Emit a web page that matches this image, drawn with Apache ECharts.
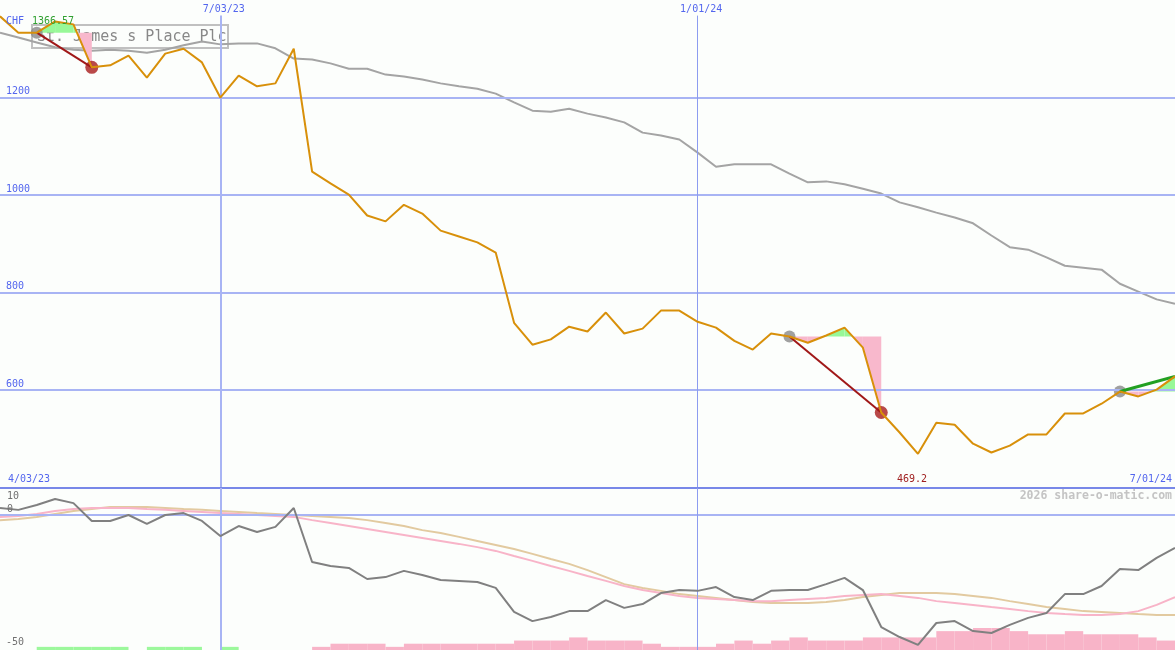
<!DOCTYPE html>
<html><head><meta charset="utf-8">
<script src="https://cdn.jsdelivr.net/npm/echarts@6/dist/echarts.min.js"></script>
<style>html,body{margin:0;padding:0;background:#fcfefc}#c{width:1175px;height:650px}</style>
</head><body><div id="c"></div>
<script>
// ---------- data ----------
const title = 'St. James s Place Plc';
const currency = 'CHF';
const headlinePrice = '1366.57';
const watermark = '2026 share-o-matic.com';
const priceTicks = [600, 800, 1000, 1200];
const lowerTicks = [10, 0, -50];
const dateTickIdx = [12, 38];
const dateTickLabels = ['7/03/23', '1/01/24'];
const startLabel = '4/03/23';
const endLabel = '7/01/24';

const price = [1366.57,1333,1333,1356,1350,1262,1266,1286,1241,1290,
  1300,1272,1200,1245,1223,1229,1300,1048,1024,1001,
  958,946,980,962,927,915,903,882,738,693,
  704,730,720,759,716,726,763,763,740,728,
  701,683,716,710,697,712,728,687,554,513,
  469.2,533,529,490,472,486,509,509,552,552,
  572,597,587,601,628];
const movingAvg = [1333,1323,1313,1303,1298,1296,1298,1296,1292,1298,
  1307,1315,1309,1311,1311,1301,1280,1278,1270,1259,
  1259,1247,1243,1237,1229,1223,1218,1208,1190,1173,
  1171,1177,1167,1159,1149,1128,1122,1114,1087,1058,
  1063,1063,1063,1044,1026,1028,1022,1013,1003,985,
  975,964,954,942,917,893,888,872,855,851,
  847,818,802,786,777];
const relStrength = [2.6,1.9,3.7,5.9,4.4,-2.2,-2.2,0,-3.3,0,
  0.7,-2.2,-7.8,-4.1,-6.3,-4.4,2.6,-17.4,-18.9,-19.6,
  -23.7,-23,-20.7,-22.2,-24.1,-24.4,-24.8,-27,-35.9,-39.3,
  -37.8,-35.6,-35.6,-31.5,-34.4,-33,-28.9,-27.8,-28.1,-26.7,
  -30.4,-31.5,-28.1,-27.8,-27.8,-25.6,-23.3,-27.8,-41.5,-45.2,
  -48.1,-40,-39.3,-43,-43.7,-40.7,-38.1,-36.3,-29.3,-29.3,
  -26.3,-20,-20.4,-15.9,-12.2];
const relFast = [-0.7,-0.4,0.4,1.5,2.2,2.6,2.6,2.6,2.2,1.9,
  1.5,1.1,0.7,0.4,0,-0.4,-0.7,-1.9,-3.0,-4.1,
  -5.2,-6.3,-7.4,-8.5,-9.6,-10.7,-11.9,-13.3,-15.2,-17.0,
  -18.9,-20.7,-22.6,-24.4,-26.3,-27.8,-28.9,-30.0,-30.7,-31.1,
  -31.5,-31.9,-31.9,-31.5,-31.1,-30.7,-30.0,-29.6,-29.3,-30.0,
  -30.7,-31.9,-32.6,-33.3,-34.1,-34.8,-35.6,-36.3,-36.7,-37.0,
  -37.0,-36.7,-35.6,-33.3,-30.4];
const relSlow = [-1.9,-1.5,-0.7,0.4,1.5,2.2,3.0,3.0,3.0,2.6,
  2.2,1.9,1.5,1.1,0.7,0.4,0,-0.4,-0.7,-1.1,
  -1.9,-3.0,-4.1,-5.6,-6.7,-8.1,-9.6,-11.1,-12.6,-14.4,
  -16.3,-18.1,-20.4,-23.0,-25.6,-27.0,-28.1,-29.3,-30.0,-30.7,
  -31.5,-32.2,-32.6,-32.6,-32.6,-32.2,-31.5,-30.4,-29.6,-28.9,
  -28.9,-28.9,-29.3,-30.0,-30.7,-31.9,-33.0,-34.1,-34.8,-35.6,
  -35.9,-36.3,-36.7,-37.0,-37.0];
// signal strength blocks (one per week interval): + green, - pink
const signalBars = [0,0,1,1,1,1,1,0,1,1,
  1,0,1,0,0,0,0,-1,-2,-2,
  -2,-1,-2,-2,-2,-2,-2,-2,-3,-3,
  -3,-4,-3,-3,-3,-2,-1,-1,-1,-2,
  -3,-2,-3,-4,-3,-3,-3,-4,-4,-4,
  -4,-6,-6,-7,-7,-6,-5,-5,-6,-5,
  -5,-5,-4,-3];
// trade signals: [start index, end index, kind]
const signals = [[2, 5, 'sell'], [43, 48, 'sell'], [61, 64, 'open']];

// ---------- styles ----------
const FONT = "'DejaVu Sans Mono', monospace";
const BLUE = '#5366ee';
const GRIDC = '#a8b4f4';
const VLINE2 = '#8c9cf0';
const FILL_UP = '#98f898';
const FILL_DN = '#f8b8cc';
const lastIdx = price.length - 1;

const fillData = [];
signals.forEach(([s, e]) => {
  for (let i = s; i < e; i++) fillData.push([i, price[i], price[i + 1], price[s]]);
});
function renderFill(params, api) {
  const i0 = api.value(0), p0 = api.value(1), p1 = api.value(2), L = api.value(3);
  const i1 = i0 + 1, d0 = p0 - L, d1 = p1 - L;
  const pt = (x, y) => api.coord([x, y]);
  const polys = [];
  if (d0 * d1 < 0) {
    const xc = i0 + d0 / (d0 - d1);
    polys.push({ pts: [pt(i0, L), pt(i0, p0), pt(xc, L)], up: d0 > 0 });
    polys.push({ pts: [pt(xc, L), pt(i1, p1), pt(i1, L)], up: d1 > 0 });
  } else {
    polys.push({ pts: [pt(i0, L), pt(i0, p0), pt(i1, p1), pt(i1, L)], up: (d0 + d1) > 0 });
  }
  return { type: 'group', children: polys.map(p => ({ type: 'polygon', shape: { points: p.pts }, style: { fill: p.up ? FILL_UP : FILL_DN } })) };
}
function renderBar(params, api) {
  const i = api.value(0), v = api.value(1);
  if (!v) return null;
  const a = api.coord([i, 0]), b = api.coord([i + 1, Math.abs(v)]);
  return { type: 'rect', shape: { x: a[0], y: b[1], width: b[0] - a[0], height: a[1] - b[1] }, style: { fill: v > 0 ? '#9cf89c' : '#f8b4c8' } };
}

const series = [];
// grid lines (top)
series.push({
  type: 'line', xAxisIndex: 0, yAxisIndex: 0, data: [], z: 1, silent: true,
  markLine: {
    symbol: 'none', silent: true, animation: false, label: { show: false },
    data: priceTicks.map(v => ({ yAxis: v, lineStyle: { color: GRIDC, width: 2, type: 'solid' } }))
      .concat(dateTickIdx.map((x, k) => [{ coord: [x, 1368], lineStyle: { color: k === 0 ? GRIDC : VLINE2, width: k === 0 ? 2 : 1, type: 'solid' } }, { coord: [x, 400] }]))
      .concat([{ yAxis: 400, lineStyle: { color: '#7888e8', width: 2, type: 'solid' } }])
  }
});
series.push({ type: 'line', xAxisIndex: 0, yAxisIndex: 0, data: movingAvg.map((v, i) => [i, v]), symbol: 'none', lineStyle: { color: '#a4a4a4', width: 2 }, z: 2 });
series.push({ type: 'custom', xAxisIndex: 0, yAxisIndex: 0, data: fillData, renderItem: renderFill, encode: { x: 0, y: 1 }, z: 3 });
signals.forEach(([s, e, k]) => {
  series.push({ type: 'scatter', xAxisIndex: 0, yAxisIndex: 0, data: [[s, price[s]]], symbolSize: 12, itemStyle: { color: '#888888' }, z: 4 });
  if (k === 'sell') series.push({ type: 'scatter', xAxisIndex: 0, yAxisIndex: 0, data: [[e, price[e]]], symbolSize: 13, itemStyle: { color: '#a81c1c' }, z: 4 });
  series.push({ type: 'line', xAxisIndex: 0, yAxisIndex: 0, data: [[s, price[s]], [e, price[e]]], symbol: 'none',
    lineStyle: { color: k === 'sell' ? '#a01818' : '#22a022', width: k === 'sell' ? 2 : 3 }, z: 5 });
});
series.push({ type: 'line', xAxisIndex: 0, yAxisIndex: 0, data: price.map((v, i) => [i, v]), symbol: 'none', lineStyle: { color: '#d8900a', width: 2 }, z: 6 });

// lower panel
series.push({
  type: 'line', xAxisIndex: 1, yAxisIndex: 1, data: [], z: 1, silent: true,
  markLine: {
    symbol: 'none', silent: true, animation: false, label: { show: false },
    data: [{ yAxis: 0, lineStyle: { color: GRIDC, width: 2, type: 'solid' } }]
      .concat(dateTickIdx.map((x, k) => ({ xAxis: x, lineStyle: { color: k === 0 ? GRIDC : VLINE2, width: k === 0 ? 2 : 1, type: 'solid' } })))
  }
});
series.push({ type: 'custom', xAxisIndex: 1, yAxisIndex: 2, data: signalBars.map((v, i) => [i, v]), renderItem: renderBar, encode: { x: 0, y: 1 }, z: 2 });
series.push({ type: 'line', xAxisIndex: 1, yAxisIndex: 1, data: relSlow.map((v, i) => [i, v]), symbol: 'none', lineStyle: { color: '#e2caa0', width: 2 }, z: 3 });
series.push({ type: 'line', xAxisIndex: 1, yAxisIndex: 1, data: relFast.map((v, i) => [i, v]), symbol: 'none', lineStyle: { color: '#f8b4c8', width: 2 }, z: 4 });
series.push({ type: 'line', xAxisIndex: 1, yAxisIndex: 1, data: relStrength.map((v, i) => [i, v]), symbol: 'none', lineStyle: { color: '#808080', width: 2 }, z: 5 });

const chart = echarts.init(document.getElementById('c'), null, { renderer: 'canvas' });
const hiddenX = (g) => ({ type: 'value', gridIndex: g, min: 0, max: lastIdx, show: false });
chart.setOption({
  animation: false,
  backgroundColor: '#fcfefc',
  grid: [
    { left: 0, right: 0, top: -0.7, height: 488.3 },
    { left: 0, right: 0, top: 488, height: 162 }
  ],
  xAxis: [hiddenX(0), hiddenX(1)],
  yAxis: [
    { type: 'value', gridIndex: 0, min: 400, max: 1400, interval: 200,
      axisLine: { show: false }, axisTick: { show: false }, splitLine: { show: false },
      axisLabel: { inside: true, margin: 6, color: BLUE, fontFamily: FONT, fontSize: 10, verticalAlign: 'bottom', padding: [0, 0, 1, 0],
        formatter: v => priceTicks.includes(v) ? String(v) : '' } },
    { type: 'value', gridIndex: 1, min: -50, max: 10, show: false },
    { type: 'value', gridIndex: 1, min: 0, max: 51.5, show: false }
  ],
  series: series
});

// texts tied to data positions
const px = (g, x, y) => chart.convertToPixel({ xAxisIndex: g, yAxisIndex: g }, [x, y]);
let minI = 0; price.forEach((v, i) => { if (v < price[minI]) minI = i; });
const baseY = px(0, 0, 400)[1];
const txt = (x, y, text, color, align, extra) => Object.assign({ type: 'text', x: x, y: y, z: 50,
  style: Object.assign({ text: text, fill: color, font: '10px ' + FONT, textAlign: align, textVerticalAlign: 'middle' }, extra || {}) });
const graphics = [
  { type: 'rect', shape: { x: 32, y: 25, width: 196, height: 23 }, style: { fill: 'rgba(255,255,255,0)', stroke: '#c0c0c0', lineWidth: 2 }, z: -1 },
  { type: 'text', x: 37, y: 37, z: -1, style: { text: title, fill: '#888888', font: '15px ' + FONT, textVerticalAlign: 'middle' } },
  txt(6, 21, currency, BLUE, 'left'),
  txt(32, 21, headlinePrice, '#30a030', 'left'),
  txt(8, baseY - 8, startLabel, BLUE, 'left'),
  txt(1172, baseY - 8, endLabel, BLUE, 'right'),
  txt(px(0, minI, 400)[0] - 6, baseY - 8, String(price[minI]), '#a02020', 'center'),
  txt(1172, 496, watermark, '#c4c4c4', 'right', { font: 'bold 11.5px ' + FONT })
];
dateTickIdx.forEach((ix, k) => graphics.push(txt(px(0, ix, 1000)[0] + 3.5, 9, dateTickLabels[k], BLUE, 'center')));
const lowY = lowerTicks.map(v => px(1, 0, v)[1]);
graphics.push(txt(7, lowY[0] + 8, String(lowerTicks[0]), '#707070', 'left'));
graphics.push(txt(7, lowY[1] - 6, String(lowerTicks[1]), '#707070', 'left'));
graphics.push(txt(6, lowY[2] - 8, String(lowerTicks[2]), '#707070', 'left'));
chart.setOption({ graphic: graphics });
</script></body></html>
